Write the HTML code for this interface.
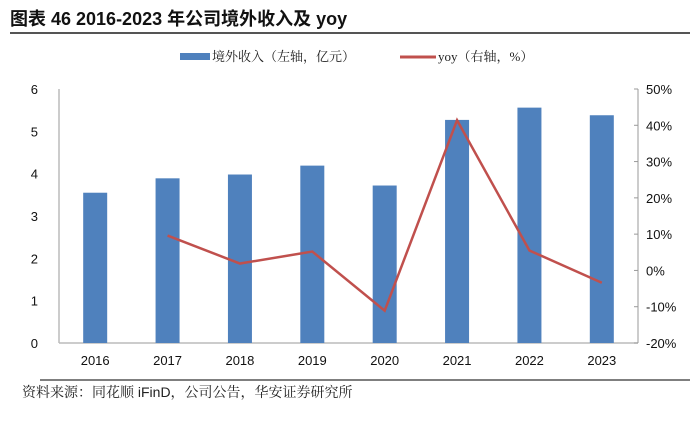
<!DOCTYPE html>
<html><head><meta charset="utf-8"><style>
body{margin:0;background:#fff;width:700px;height:417px;overflow:hidden;font-family:"Liberation Sans","Noto Sans CJK SC",sans-serif}
</style></head><body>
<svg width="700" height="417" xmlns="http://www.w3.org/2000/svg">
<text x="10" y="25" font-size="18" font-weight="bold" fill="#111" font-family="Liberation Sans,Noto Sans CJK SC,sans-serif">图表 46 2016-2023 年公司境外收入及 yoy</text>
<line x1="10" y1="33" x2="690" y2="33" stroke="#555" stroke-width="2"/>
<g font-size="13" fill="#222" font-family="Liberation Serif,Noto Serif CJK SC,serif">
<rect x="180" y="53" width="30" height="7" fill="#4f81bd"/>
<text x="212" y="61">境外收入（左轴，亿元）</text>
<line x1="400" y1="57" x2="436" y2="57" stroke="#c0504d" stroke-width="3"/>
<text x="438" y="61">yoy（右轴，%）</text>
</g>
<g id="axes"></g>
<g id="bars"></g>
<g id="line"></g>
<line x1="40" y1="380" x2="690" y2="380" stroke="#555" stroke-width="1.5"/>
<text x="22" y="397" font-size="14" fill="#222" font-family="Liberation Sans,Noto Serif CJK SC,serif">资料来源：同花顺 iFinD，公司公告，华安证券研究所</text>
</svg>
<script>
const categories=["2016","2017","2018","2019","2020","2021","2022","2023"];
const revenue=[3.55,3.89,3.98,4.19,3.72,5.27,5.56,5.38];
const yoy=[null,9.6,1.9,5.2,-11.1,41.4,5.5,-3.4];
const leftTicks=[0,1,2,3,4,5,6];
const rightTicks=[-20,-10,0,10,20,30,40,50];
const NS="http://www.w3.org/2000/svg";
const X0=59,X1=638,Y0=343,Y1=89;
const bw=(X1-X0)/categories.length;
const xc=i=>X0+bw*(i+0.5);
const yl=v=>Y0-(v/6)*(Y0-Y1);
const yr=v=>Y0-((v+20)/70)*(Y0-Y1);
function mk(t,a,p){const e=document.createElementNS(NS,t);for(const k in a)e.setAttribute(k,a[k]);p.appendChild(e);return e;}
const ax=document.getElementById('axes');
let e=mk('line',{x1:X0,y1:Y1,x2:X0,y2:Y0,stroke:'#bbb','stroke-width':1.5},ax);


e=mk('line',{x1:X0,y1:Y0,x2:X1,y2:Y0,stroke:'#bbb','stroke-width':1.5},ax);


e=mk('line',{x1:X1,y1:Y1,x2:X1,y2:Y0,stroke:'#999','stroke-width':1},ax);


leftTicks.forEach(v=>{const t=mk('text',{x:X0-21,y:yl(v)+5,'font-size':13,'text-anchor':'end',fill:'#111'},ax);t.textContent=v;

});
rightTicks.forEach(v=>{mk('line',{x1:X1-4,y1:yr(v),x2:X1,y2:yr(v),stroke:'#999'},ax);
const t=mk('text',{x:X1+8,y:yr(v)+5,'font-size':13,fill:'#111'},ax);t.textContent=v+'%';

});
categories.forEach((c,i)=>{const t=mk('text',{x:xc(i),y:Y0+22,'font-size':13,'text-anchor':'middle',fill:'#111'},ax);t.textContent=c;

});
const bg=document.getElementById('bars');
revenue.forEach((v,i)=>{const r=mk('rect',{x:xc(i)-12,y:yl(v),width:24,height:Y0-yl(v),fill:'#4f81bd'},bg);

});
const pts=[];yoy.forEach((v,i)=>{if(v!==null)pts.push(xc(i)+','+yr(v));});
const pl=mk('polyline',{points:pts.join(' '),fill:'none',stroke:'#c0504d','stroke-width':2.5},document.getElementById('line'));


</script>
</body></html>
